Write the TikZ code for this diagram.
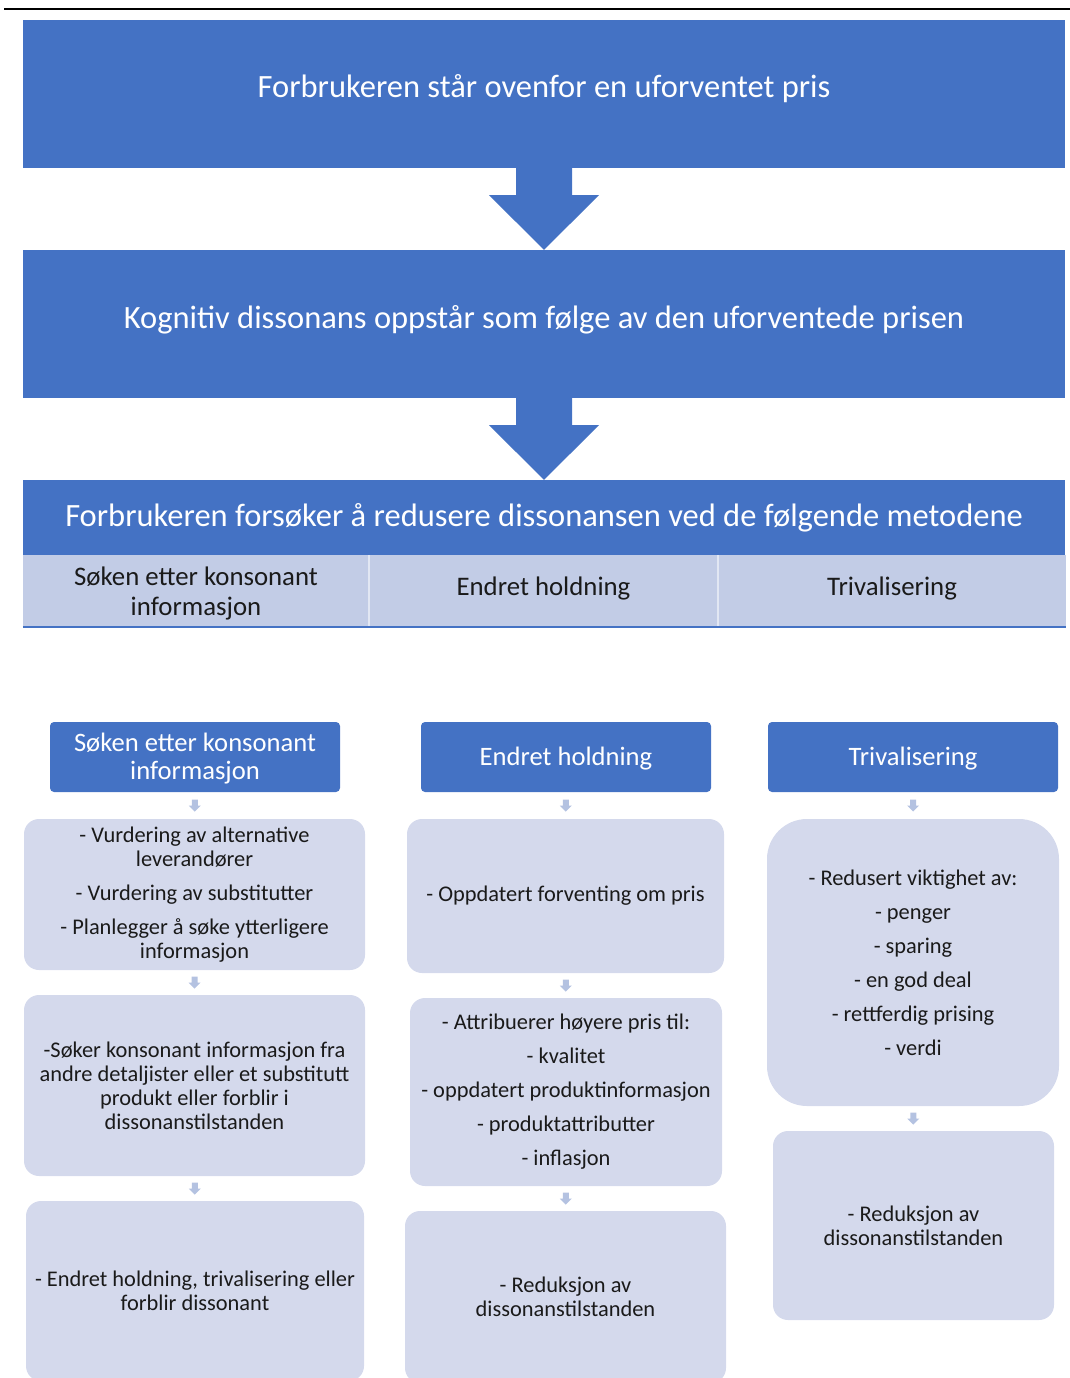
\documentclass[tikz,border=0pt]{standalone}
\usepackage{fontspec}
\setmainfont{Carlito}
\usetikzlibrary{calc}
\definecolor{blu}{HTML}{4472C4}
\definecolor{rowc}{HTML}{C2CCE6}
\definecolor{boxc}{HTML}{D4D9EC}
\definecolor{arrc}{HTML}{B4C2E1}
\definecolor{txt}{HTML}{1A1A1A}
\definecolor{sepc}{HTML}{E2E7F3}
\begin{document}
\begin{tikzpicture}[x=1pt,y=-1pt,
  bigbox/.style={fill=blu, minimum width=1042pt, minimum height=148pt, inner sep=0pt},
  bigtxt/.style={text=white, inner sep=0pt, font=\fontsize{32.5}{38}\selectfont},
  cellbox/.style={fill=rowc, minimum height=72pt, inner sep=0pt},
  celltxt/.style={text=txt, inner sep=0pt, align=center, font=\fontsize{26.8}{30}\selectfont},
  headbox/.style={fill=blu, rounded corners=4pt, minimum width=290pt, minimum height=70pt, inner sep=0pt},
  headtxt/.style={text=white, inner sep=0pt, align=center, font=\fontsize{26.6}{28}\selectfont},
  lbox/.style={fill=boxc, text=txt, rounded corners=15pt, align=center, inner sep=0pt, font=\fontsize{22.4}{24}\selectfont},
  darr/.pic={\fill[arrc] (-3,-6) -- (3,-6) -- (3,0) -- (6,0) -- (0,6) -- (-6,0) -- (-3,0) -- cycle;}
]
\useasboundingbox (0,0) rectangle (1070,1378);
\clip (0,0) rectangle (1070,1378);
\coordinate (rl) at (4,9);
\coordinate (rr) at (1070,9);
\draw[line width=2pt] (rl) -- (rr);

% top boxes
\node[bigbox] (t1) at (544,94) {};
\node[bigtxt] (t1txt) at (544,89) {Forbrukeren står ovenfor en uforventet pris};
\node[bigbox] (t2) at (544,324) {};
\node[bigtxt] (t2txt) at (544,320) {Kognitiv dissonans oppstår som følge av den uforventede prisen};
\node[bigbox, minimum height=75pt] (t3) at (544,517.5) {};
\node[bigtxt] (t3txt) at (544,517.5) {Forbrukeren forsøker å redusere dissonansen ved de følgende metodene};

% big arrows
\fill[blu] ($(t1.south)+(-28,0)$) -- ($(t1.south)+(28,0)$) -- ($(t1.south)+(28,27)$) -- ($(t1.south)+(55,27)$) -- (t2.north) -- ($(t1.south)+(-55,27)$) -- ($(t1.south)+(-28,27)$) -- cycle;
\fill[blu] ($(t2.south)+(-28,0)$) -- ($(t2.south)+(28,0)$) -- ($(t2.south)+(28,27)$) -- ($(t2.south)+(55,27)$) -- (t3.north) -- ($(t2.south)+(-55,27)$) -- ($(t2.south)+(-28,27)$) -- cycle;

% table row
\node[cellbox, minimum width=346pt] (c1) at (196,591) {};
\node[cellbox, minimum width=349pt] (c2) at (543.5,591) {};
\node[cellbox, minimum width=348pt] (c3) at (892,591) {};
\node[celltxt] (c1txt) at (196,593) {Søken etter konsonant\\informasjon};
\node[celltxt] (c2txt) at (543.5,588) {Endret holdning};
\node[celltxt] (c3txt) at (892,588) {Trivalisering};
\draw[sepc, line width=1.5pt] (c1.north east) -- (c1.south east);
\draw[sepc, line width=1.5pt] (c2.north east) -- (c2.south east);
\draw[blu, line width=1.5pt] (c1.south west) -- (c3.south east);

% column 1
\node[headbox] (h1) at (195,757) {};
\node[headtxt] (h1txt) at (195,759) {Søken etter konsonant\\informasjon};
\node[lbox, minimum width=341pt, minimum height=151pt] (b1a) at (194.5,894.5)
  {- Vurdering av alternative\\leverandører\\[10pt]- Vurdering av substitutter\\[10pt]- Planlegger å søke ytterligere\\informasjon};
\node[lbox, minimum width=341pt, minimum height=181pt] (b1b) at (194.5,1085.5)
  {-Søker konsonant informasjon fra\\andre detaljister eller et substitutt\\produkt eller forblir i\\dissonanstilstanden};
\node[lbox, minimum width=338pt, minimum height=180pt] (b1c) at (195,1291)
  {- Endret holdning, trivalisering eller\\forblir dissonant};

% column 2
\node[headbox] (h2) at (566,757) {};
\node[headtxt] (h2txt) at (566,759) {Endret holdning};
\node[lbox, minimum width=317pt, minimum height=154pt] (b2a) at (565.5,896)
  {- Oppdatert forventing om pris};
\node[lbox, minimum width=312pt, minimum height=188pt] (b2b) at (566,1092)
  {- Attribuerer høyere pris til:\\[10pt]- kvalitet\\[10pt]- oppdatert produktinformasjon\\[10pt]- produktattributter\\[10pt]- inflasjon};
\node[lbox, minimum width=321pt, minimum height=172pt] (b2c) at (565.5,1297)
  {- Reduksjon av\\dissonanstilstanden};

% column 3
\node[headbox] (h3) at (913,757) {};
\node[headtxt] (h3txt) at (913,759) {Trivalisering};
\node[lbox, rounded corners=40pt, minimum width=292pt, minimum height=287pt] (b3a) at (913,962.5)
  {- Redusert viktighet av:\\[10pt]- penger\\[10pt]- sparing\\[10pt]- en god deal\\[10pt]- rettferdig prising\\[10pt]- verdi};
\node[lbox, minimum width=281pt, minimum height=189pt] (b3b) at (913.5,1225.5)
  {- Reduksjon av\\dissonanstilstanden};

% small arrows
\foreach \a/\b [count=\i] in {h1/b1a, b1a/b1b, b1b/b1c, h2/b2a, b2a/b2b, b2b/b2c, h3/b3a, b3a/b3b}{
  \path (\a.south) -- (\b.north) coordinate[midway] (m\i);
  \pic at (m\i) {darr};
}
\end{tikzpicture}
\end{document}
